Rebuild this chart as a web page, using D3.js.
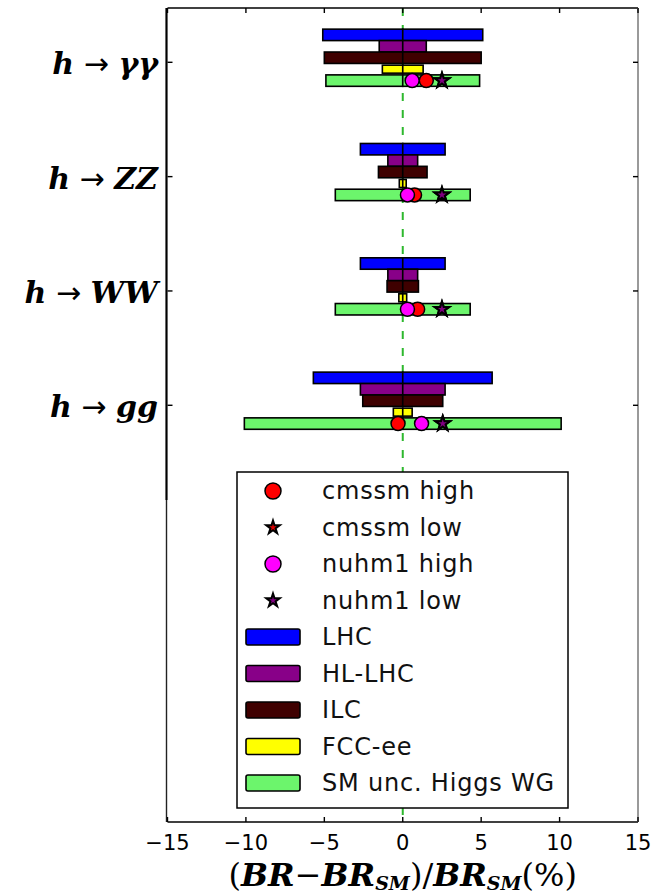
<!DOCTYPE html>
<html><head><meta charset="utf-8">
<script src="https://cdn.jsdelivr.net/npm/d3@7"></script>
<style>body{margin:0;background:#fff} svg{display:block}</style>
</head><body>
<svg id="chart" width="667" height="894"></svg>
<script>
// Higgs decay channels and relative branching-ratio deviations (%)
const decays = ["γγ", "ZZ", "WW", "gg"];
const experiments = ["LHC", "HL-LHC", "ILC", "FCC-ee", "SM unc. Higgs WG"];
const lhcUnc = [5.1, 2.7, 2.7, 5.7];
const hlLhcUnc = [1.5, 0.95, 0.95, 2.7];
const ilcUnc = [5.0, 1.55, 1.0, 2.55];
const fccUnc = [1.3, 0.22, 0.25, 0.6];
const smUnc = [4.9, 4.3, 4.3, 10.1];
const cmssmHigh = [1.5, 0.75, 0.95, -0.3];
const cmssmLow = [2.5, 2.5, 2.5, 2.55];
const nuhm1High = [0.6, 0.3, 0.3, 1.2];
const nuhm1Low = [2.5, 2.5, 2.5, 2.55];
const xTicks = [-15, -10, -5, 0, 5, 10, 15];
const modelNames = ["cmssm high", "cmssm low", "nuhm1 high", "nuhm1 low"];

const svg = d3.select("#chart");
const plotL = 167.5, plotR = 638, plotT = 8, plotB = 822;
const x = d3.scaleLinear().domain([-15, 15]).range([plotL, plotR]);
const y = d3.scaleLinear().domain([-0.475, 6.645]).range([plotT, plotB]);

const bands = [
  { name: experiments[0], values: lhcUnc,   fill: "#0000ff", off: -0.24, h: 0.10 },
  { name: experiments[1], values: hlLhcUnc, fill: "#880088", off: -0.14, h: 0.10 },
  { name: experiments[2], values: ilcUnc,   fill: "#3f0000", off: -0.04, h: 0.10 },
  { name: experiments[3], values: fccUnc,   fill: "#ffff00", off: 0.06,  h: 0.07 },
  { name: experiments[4], values: smUnc,    fill: "#6cf56c", off: 0.16,  h: 0.10 }
];
const markerRow = 0.16;

const models = [
  { name: modelNames[0], values: cmssmHigh, shape: "circle", fill: "#ff0000" },
  { name: modelNames[1], values: cmssmLow,  shape: "star",   fill: "#dd0000" },
  { name: modelNames[2], values: nuhm1High, shape: "circle", fill: "#ff00ff" },
  { name: modelNames[3], values: nuhm1Low,  shape: "star",   fill: "#800080" }
];

// zero reference line
svg.append("line")
  .attr("x1", x(0)).attr("x2", x(0)).attr("y1", plotT).attr("y2", plotB)
  .attr("stroke", "#2eb82e").attr("stroke-width", 2).attr("stroke-dasharray", "8,9");

// uncertainty bands, each drawn as two halves around zero
const bandG = svg.append("g");
bands.forEach(b => {
  decays.forEach((d, i) => {
    const w = b.values[i];
    const yTop = y(i + b.off - b.h / 2), hh = y(b.h) - y(0);
    [[-w, 0], [0, w]].forEach(([a, c]) => {
      bandG.append("rect")
        .attr("x", x(a)).attr("y", yTop)
        .attr("width", x(c) - x(a)).attr("height", hh)
        .attr("fill", b.fill).attr("stroke", "#000").attr("stroke-width", 1.6);
    });
  });
});

// model predictions
function drawMarker(g, m, cx, cy, r, starSize) {
  if (m.shape === "circle") {
    g.append("circle").attr("cx", cx).attr("cy", cy).attr("r", r)
      .attr("fill", m.fill).attr("stroke", "#000").attr("stroke-width", 1.5);
  } else {
    g.append("path").attr("d", d3.symbol().type(d3.symbolStar).size(starSize)())
      .attr("transform", `translate(${cx},${cy})`)
      .attr("fill", m.fill).attr("stroke", "#000").attr("stroke-width", 2);
  }
}
const ptG = svg.append("g");
models.forEach(m => {
  decays.forEach((d, i) => drawMarker(ptG, m, x(m.values[i]), y(i + markerRow), 7, 66));
});

// frame
svg.append("line").attr("x1", plotL).attr("x2", plotR).attr("y1", plotT).attr("y2", plotT)
  .attr("stroke", "#000").attr("stroke-width", 1.6);
svg.append("line").attr("x1", plotL).attr("x2", plotR).attr("y1", plotB).attr("y2", plotB)
  .attr("stroke", "#000").attr("stroke-width", 1.6);
svg.append("line").attr("x1", plotL - 1).attr("x2", plotL - 1).attr("y1", plotT).attr("y2", 500)
  .attr("stroke", "#000").attr("stroke-width", 2.2);
svg.append("line").attr("x1", plotL - 1).attr("x2", plotL - 1).attr("y1", 500).attr("y2", plotB)
  .attr("stroke", "#222").attr("stroke-width", 1.4);
svg.append("line").attr("x1", plotR).attr("x2", plotR).attr("y1", plotT).attr("y2", plotB)
  .attr("stroke", "#9a9a9a").attr("stroke-width", 2);

// ticks (pointing inward on every side)
const tl = 5;
xTicks.forEach(t => {
  svg.append("line").attr("x1", x(t)).attr("x2", x(t)).attr("y1", plotB).attr("y2", plotB - tl)
    .attr("stroke", "#000").attr("stroke-width", 1.4);
  svg.append("line").attr("x1", x(t)).attr("x2", x(t)).attr("y1", plotT).attr("y2", plotT + tl)
    .attr("stroke", "#000").attr("stroke-width", 1.4);
});
decays.forEach((d, i) => {
  svg.append("line").attr("x1", plotL).attr("x2", plotL + tl).attr("y1", y(i)).attr("y2", y(i))
    .attr("stroke", "#000").attr("stroke-width", 1.4);
  svg.append("line").attr("x1", plotR).attr("x2", plotR - tl).attr("y1", y(i)).attr("y2", y(i))
    .attr("stroke", "#000").attr("stroke-width", 1.4);
});

// x tick labels
svg.append("g").selectAll("text").data(xTicks).join("text")
  .attr("x", d => x(d)).attr("y", 850)
  .attr("text-anchor", "middle")
  .attr("font-family", "DejaVu Sans").attr("font-size", 21).attr("fill", "#000")
  .text(d => d < 0 ? "−" + Math.abs(d) : String(d));

// category labels
const mathFont = "DejaVu Serif";
decays.forEach((d, i) => {
  const t = svg.append("text").attr("x", 158).attr("y", y(i) + 12)
    .attr("text-anchor", "end").attr("font-family", mathFont)
    .attr("font-size", 30).attr("font-weight", "bold").attr("fill", "#000");
  t.append("tspan").attr("font-style", "italic").text("h");
  t.append("tspan").attr("font-family", "DejaVu Sans").attr("font-weight", "normal").text(" → ");
  t.append("tspan").attr("font-style", "italic").text(d);
});

// x axis title
const xt = svg.append("text").attr("x", x(0)).attr("y", 886).attr("text-anchor", "middle")
  .attr("font-family", mathFont).attr("font-size", 32).attr("font-weight", "bold").attr("fill", "#000");
xt.append("tspan").attr("font-weight", "normal").text("(");
xt.append("tspan").attr("font-style", "italic").text("BR");
xt.append("tspan").attr("font-weight", "normal").text("−");
xt.append("tspan").attr("font-style", "italic").text("BR");
xt.append("tspan").attr("font-style", "italic").attr("font-size", 19).attr("dy", 4).text("SM");
xt.append("tspan").attr("font-weight", "normal").attr("dy", -4).text(")/");
xt.append("tspan").attr("font-style", "italic").text("BR");
xt.append("tspan").attr("font-style", "italic").attr("font-size", 19).attr("dy", 4).text("SM");
xt.append("tspan").attr("font-weight", "normal").attr("dy", -4).text("(%)");

// legend
const lg = svg.append("g");
lg.append("rect").attr("x", 237).attr("y", 472).attr("width", 331).attr("height", 336)
  .attr("fill", "#fff").attr("stroke", "#000").attr("stroke-width", 1.5);
const rowY = d3.scaleLinear().domain([0, 8]).range([491, 783]);
const legendFont = { family: "DejaVu Sans", size: 24, spacing: 0.8 };
models.forEach((m, i) => {
  drawMarker(lg, m, 273, rowY(i), 8, 55);
  lg.append("text").attr("x", 322).attr("y", rowY(i) + 8)
    .attr("font-family", legendFont.family).attr("font-size", legendFont.size)
    .attr("letter-spacing", legendFont.spacing).attr("fill", "#111").text(m.name);
});
bands.forEach((b, j) => {
  const i = j + 4;
  lg.append("rect").attr("x", 246).attr("y", rowY(i) - 8).attr("width", 54).attr("height", 16)
    .attr("rx", 2).attr("fill", b.fill).attr("stroke", "#000").attr("stroke-width", 1.6);
  lg.append("text").attr("x", 322).attr("y", rowY(i) + 8)
    .attr("font-family", legendFont.family).attr("font-size", legendFont.size)
    .attr("letter-spacing", legendFont.spacing).attr("fill", "#111").text(b.name);
});
</script>
</body></html>
